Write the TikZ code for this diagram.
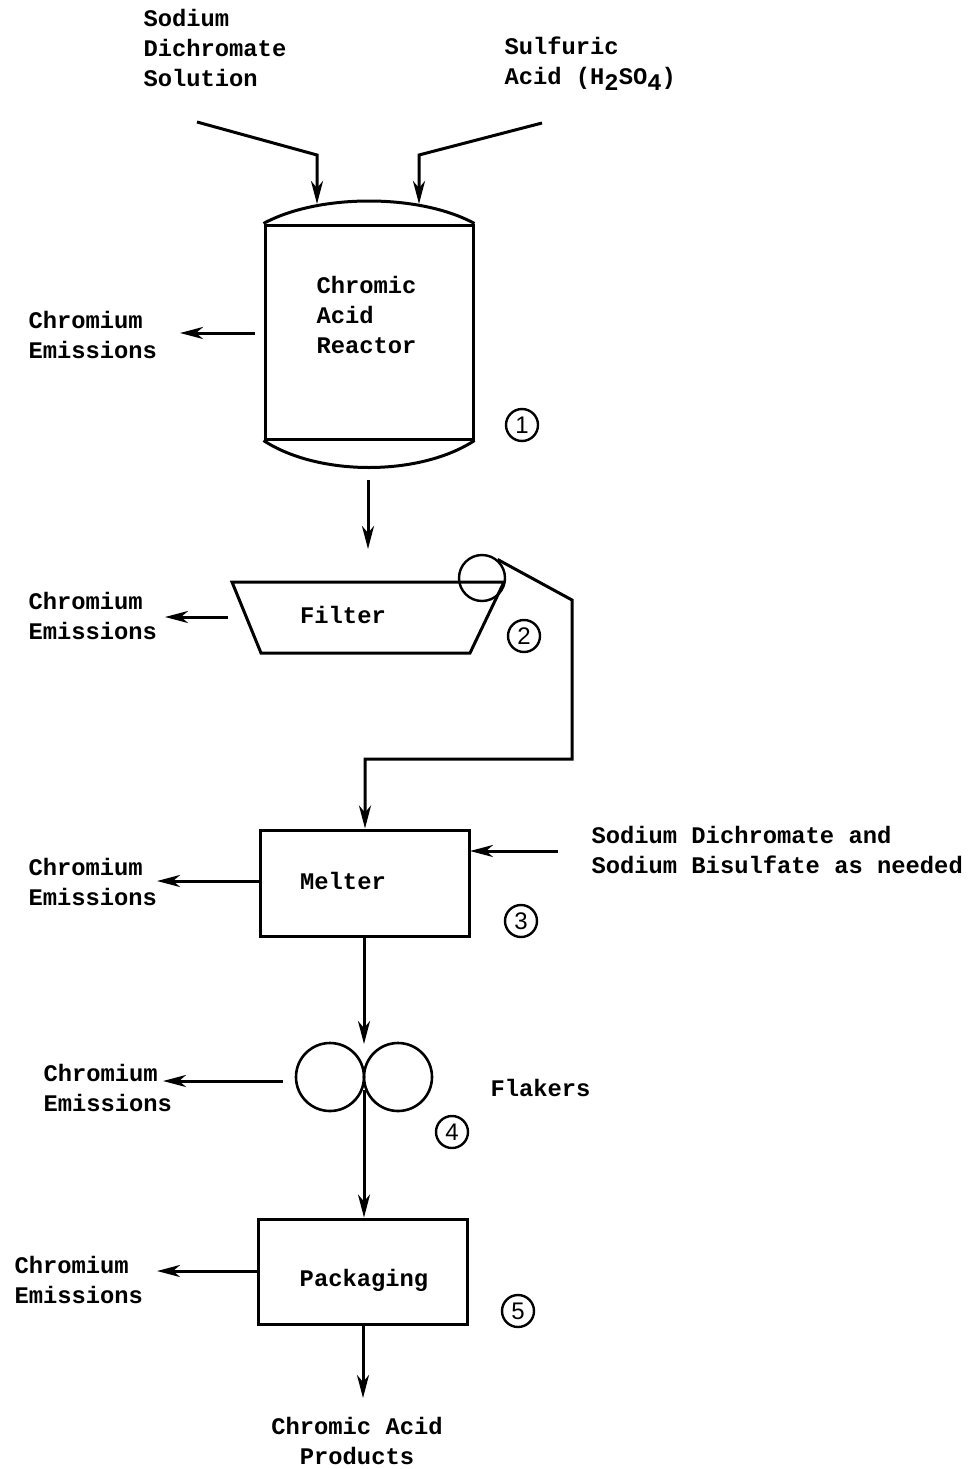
\documentclass[tikz,border=0pt]{standalone}
\usepackage{fontspec}
\setmainfont{Liberation Mono}
\newfontfamily\numfont{Liberation Sans}
\usetikzlibrary{arrows.meta}
\begin{document}
\begin{tikzpicture}[x=1pt,y=-1pt,
  line width=3pt,
  lbl/.style={font=\bfseries\fontsize{23.8}{30}\selectfont, inner sep=0pt, align=left},
  arr/.style={-{Stealth[length=23pt,width=12pt,inset=7pt]}},
  unit/.style={draw, line width=3pt, inner sep=0pt},
  num/.style={draw, circle, line width=2.4pt, minimum size=32pt, inner sep=0pt, font=\numfont\fontsize{24}{24}\selectfont}
]
\useasboundingbox (0,0) rectangle (971,1469);

% ---------- top labels and inlets
\node[lbl, anchor=west] (sds) at (142,48) {Sodium\\Dichromate\\Solution};
\node[lbl, anchor=west] (h2so4) at (503,64) {Sulfuric\\Acid (H\raisebox{-6pt}{2}SO\raisebox{-6pt}{4})};
\coordinate (sdsStart) at (197,122);
\coordinate (sdsBend) at (317,155);
\coordinate (domeL) at (317,204);
\coordinate (acStart) at (542,123);
\coordinate (acBend) at (419,155);
\coordinate (domeR) at (419,204);
\draw[arr] (sdsStart) -- (sdsBend) -- (domeL);
\draw[arr] (acStart) -- (acBend) -- (domeR);

% ---------- reactor
\node[unit, minimum width=208pt, minimum height=214pt] (reactor) at (369,332) {};
\draw (reactor.north west) .. controls +(55,-30) and +(-55,-30) .. (reactor.north east);
\draw (reactor.south west) .. controls +(55,36) and +(-55,36) .. (reactor.south east);
\node[lbl, anchor=west] (reactorText) at (315,315) {Chromic\\Acid\\Reactor};
\node[num] (n1) at (522,425) {1};
\node[lbl, anchor=west] (em1) at (27,335) {Chromium\\Emissions};
\coordinate (r1a) at (255,333);
\coordinate (r1b) at (180,333);
\draw[arr] (r1a) -- (r1b);
\coordinate (rOutA) at (368,480);
\coordinate (rOutB) at (368,549);
\draw[arr] (rOutA) -- (rOutB);

% ---------- filter
\coordinate (fTL) at (232,582);
\coordinate (fTR) at (504,582);
\coordinate (fBR) at (470,653);
\coordinate (fBL) at (261,653);
\draw (fTL) -- (fTR) -- (fBR) -- (fBL) -- cycle;
\node[draw, circle, line width=2.4pt, minimum size=46pt, inner sep=0pt] (drum) at (482,578) {};
\node[lbl] (filterText) at (343,615) {Filter};
\node[num] (n2) at (524,636) {2};
\node[lbl, anchor=west] (em2) at (27,616) {Chromium\\Emissions};
\coordinate (f1a) at (228,617);
\coordinate (f1b) at (165,617);
\draw[arr] (f1a) -- (f1b);

% ---------- melter
\node[unit, minimum width=209pt, minimum height=106pt] (melter) at (365,883) {};
\node[lbl] (melterText) at (343,881) {Melter};
\coordinate (pR1) at (572,600);
\coordinate (pR2) at (572,759);
\coordinate (pR3) at (365,759);
\draw[arr] (drum.50) -- (pR1) -- (pR2) -- (pR3) -- (melter.north);
\node[num] (n3) at (521,921) {3};
\node[lbl, anchor=west] (em3) at (27,882) {Chromium\\Emissions};
\coordinate (m1b) at (157,881);
\draw[arr] (melter.west |- m1b) -- (m1b);
\node[lbl, anchor=west] (addText) at (590,850) {Sodium Dichromate and\\Sodium Bisulfate as needed};
\coordinate (mInA) at (558,851);
\coordinate (mInB) at (470,851);
\draw[arr] (mInA) -- (mInB);

% ---------- flakers
\node[draw, circle, line width=2.6pt, minimum size=68pt, inner sep=0pt] (flakeL) at (330,1077) {};
\node[draw, circle, line width=2.6pt, minimum size=68pt, inner sep=0pt] (flakeR) at (398,1077) {};
\coordinate (flTop) at (364,1044);
\coordinate (flBot) at (364,1090);
\draw[arr] (melter.south -| flTop) -- (flTop);
\node[lbl, anchor=west] (flakersText) at (489,1088) {Flakers};
\node[num] (n4) at (452,1132) {4};
\node[lbl, anchor=west] (em4) at (42,1088) {Chromium\\Emissions};
\coordinate (k1a) at (283,1081);
\coordinate (k1b) at (163,1081);
\draw[arr] (k1a) -- (k1b);

% ---------- packaging
\node[unit, minimum width=209pt, minimum height=105pt] (pack) at (362.5,1271.5) {};
\node[lbl] (packText) at (364,1280) {Packaging};
\draw[arr] (flBot) -- (flBot |- pack.north);
\node[num] (n5) at (518,1311) {5};
\node[lbl, anchor=west] (em5) at (13,1280) {Chromium\\Emissions};
\coordinate (p1b) at (157,1271);
\draw[arr] (pack.west |- p1b) -- (p1b);
\node[lbl, align=center] (products) at (357,1441) {Chromic Acid\\Products};
\coordinate (pOut) at (363,1398);
\draw[arr] (pOut |- pack.south) -- (pOut);
\end{tikzpicture}
\end{document}
